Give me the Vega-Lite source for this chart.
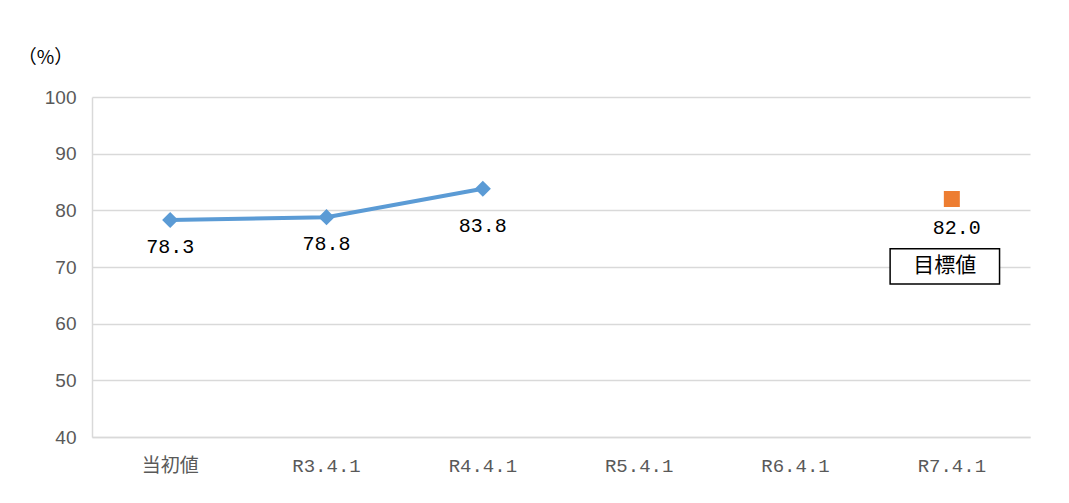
{
  "$schema": "https://vega.github.io/schema/vega-lite/v6.json",
  "autosize": "none",
  "width": 938,
  "height": 340,
  "padding": {"left": 92, "top": 97, "right": 39, "bottom": 66},
  "background": "white",
  "config": {"view": {"stroke": null}},
  "data": {"values": [
    {"cat": "当初値", "value": 78.3, "series": "実績"},
    {"cat": "R3.4.1", "value": 78.8, "series": "実績"},
    {"cat": "R4.4.1", "value": 83.8, "series": "実績"},
    {"cat": "R7.4.1", "value": 82.0, "series": "目標値"}
  ]},
  "encoding": {
    "x": {
      "field": "cat", "type": "nominal", "sort": null,
      "scale": {"domain": ["当初値", "R3.4.1", "R4.4.1", "R5.4.1", "R6.4.1", "R7.4.1"], "paddingInner": 0, "paddingOuter": 0},
      "axis": {"title": null, "labelAngle": 0, "ticks": false, "domainColor": "#d9d9d9", "domainWidth": 1.5, "labelColor": "#595959", "labelFont": "Liberation Mono, Noto Sans CJK JP", "labelFontSize": 19, "labelPadding": 19}
    },
    "y": {
      "field": "value", "type": "quantitative",
      "scale": {"domain": [40, 100], "nice": false, "zero": false},
      "axis": {"values": [40, 50, 60, 70, 80, 90, 100], "ticks": false, "domainColor": "#d9d9d9", "domainWidth": 1.5, "gridColor": "#d9d9d9", "gridWidth": 1.5, "labelColor": "#595959", "labelFont": "Liberation Sans", "labelFontSize": 19, "labelPadding": 16,
        "title": "（%）", "titleAngle": 0, "titleX": -47, "titleY": -40, "titleAlign": "center", "titleBaseline": "middle", "titleFontWeight": "normal", "titleFontSize": 19, "titleFont": "Noto Sans CJK JP", "titleColor": "#000000"}
    }
  },
  "layer": [
    {"transform": [{"filter": "datum.series === '実績'"}], "mark": {"type": "line", "color": "#5B9BD5", "strokeWidth": 4}},
    {"transform": [{"filter": "datum.series === '実績'"}], "mark": {"type": "point", "shape": "diamond", "filled": true, "opacity": 1, "color": "#5B9BD5", "size": 260}},
    {"transform": [{"filter": "datum.series === '実績' && datum.value < 80"}], "mark": {"type": "text", "dy": 27, "font": "Liberation Mono", "fontSize": 20, "color": "#000000"}, "encoding": {"text": {"field": "value", "format": ".1f"}}},
    {"transform": [{"filter": "datum.series === '実績' && datum.value > 80"}], "mark": {"type": "text", "dy": 37, "font": "Liberation Mono", "fontSize": 20, "color": "#000000"}, "encoding": {"text": {"field": "value", "format": ".1f"}}},
    {"transform": [{"filter": "datum.series === '目標値'"}], "mark": {"type": "point", "shape": "square", "filled": true, "opacity": 1, "color": "#ED7D31", "size": 256}},
    {"transform": [{"filter": "datum.series === '目標値'"}], "mark": {"type": "text", "dy": 29, "dx": 5, "font": "Liberation Mono", "fontSize": 20, "color": "#000000"}, "encoding": {"text": {"field": "value", "format": ".1f"}}},
    {"transform": [{"filter": "datum.series === '目標値'"}], "mark": {"type": "bar", "width": {"band": 0.7}, "xOffset": -7, "fill": "white", "stroke": "#000000", "strokeWidth": 1.5}, "encoding": {"y": {"datum": 73.2, "type": "quantitative"}, "y2": {"datum": 67.0}}},
    {"transform": [{"filter": "datum.series === '目標値'"}], "mark": {"type": "text", "dx": -7, "font": "Noto Sans CJK JP", "fontSize": 21, "color": "#000000", "baseline": "middle"}, "encoding": {"y": {"datum": 70.1, "type": "quantitative"}, "text": {"field": "series"}}}
  ]
}
